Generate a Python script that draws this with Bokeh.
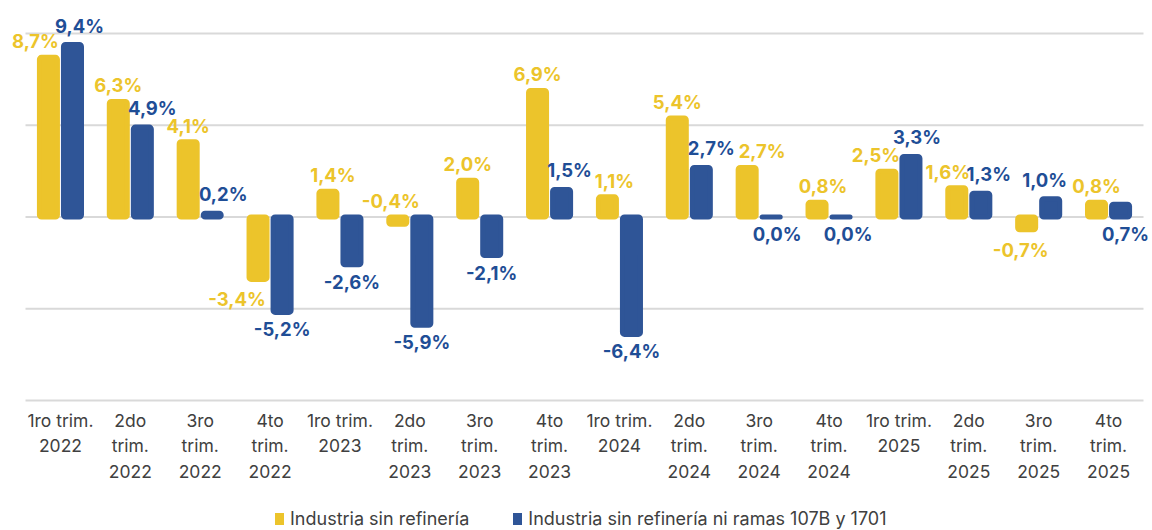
from bokeh.plotting import figure
from bokeh.models import ColumnDataSource, Legend, LegendItem, Range1d
from bokeh.core.properties import value
from bokeh.embed import file_html
from bokeh.resources import INLINE

categories = ["1ro trim.\n2022", "2do\ntrim.\n2022", "3ro\ntrim.\n2022", "4to\ntrim.\n2022",
              "1ro trim.\n2023", "2do\ntrim.\n2023", "3ro\ntrim.\n2023", "4to\ntrim.\n2023",
              "1ro trim.\n2024", "2do\ntrim.\n2024", "3ro\ntrim.\n2024", "4to\ntrim.\n2024",
              "1ro trim.\n2025", "2do\ntrim.\n2025", "3ro\ntrim.\n2025", "4to\ntrim.\n2025"]
industria = [8.7, 6.3, 4.1, -3.4, 1.4, -0.4, 2.0, 6.9, 1.1, 5.4, 2.7, 0.8, 2.5, 1.6, -0.7, 0.8]
industria_ramas = [9.4, 4.9, 0.2, -5.2, -2.6, -5.9, -2.1, 1.5, -6.4, 2.7, 0.0, 0.0, 3.3, 1.3, 1.0, 0.7]
series_names = ["Industria sin refinería", "Industria sin refinería ni ramas 107B y 1701"]
grid_values = [-10, -5, 0, 5, 10]
y_min, y_max = -10, 10

# label placement (style): above / below bar end, horizontal nudge in px
y_place = ["above", "above", "above", "below", "above", "above", "above", "above",
           "above", "above", "above", "above", "above", "above", "below", "above"]
b_place = ["above", "above", "above", "below", "below", "below", "below", "above",
           "below", "above", "below", "below", "above", "above", "above", "below"]
y_dx = [-13, 0, 0, -21, 5, -7, 0, 0, 7, 0, 15, 6, -11, -9, -6, 0]
b_dx = [7, 10, 11, 0, 0, 0, 0, 8, 0, 10, 6, 7, 6, 8, -6, 5]

YELLOW = "#ECC42B"
BLUE = "#2F5597"
BLUE_TXT = "#1F4E96"
FONT = "Inter"

n = len(categories)
xs = list(range(n))
off = 0.172
bw = 0.258

# pixel layout: +10 gridline at 33px, -10 gridline at 400px, canvas 530px tall
H = 530
px_per_unit = (400 - 33) / (y_max - y_min)
y_top = y_max + 33 / px_per_unit
y_bottom = y_top - H / px_per_unit


def fmt(v):
    return f"{v:.1f}".replace(".", ",") + "%"


p = figure(frame_width=1152, frame_height=H, output_backend="svg", toolbar_location=None,
           x_range=Range1d(-0.858, 15.629), y_range=Range1d(y_bottom, y_top),
           min_border_left=0, min_border_right=0, min_border_top=0, min_border_bottom=0)
p.outline_line_color = None
p.xgrid.visible = False
p.ygrid.visible = False
p.yaxis.visible = False
p.xaxis.visible = False
p.background_fill_color = "white"
p.border_fill_color = "white"

# gridlines
p.segment(x0=[-0.5] * len(grid_values), x1=[n - 0.5] * len(grid_values),
          y0=grid_values, y1=grid_values, line_color="#D9D9D9", line_width=2)

src_y = ColumnDataSource(dict(x=[x - off for x in xs], top=industria))
src_b = ColumnDataSource(dict(x=[x + off for x in xs], top=industria_ramas))
r1 = p.vbar(x="x", top="top", bottom=0, width=bw, source=src_y, fill_color=YELLOW,
            line_color=YELLOW, line_width=5, line_join="round", border_radius=2)
r2 = p.vbar(x="x", top="top", bottom=0, width=bw, source=src_b, fill_color=BLUE,
            line_color=BLUE, line_width=5, line_join="round", border_radius=2)


def add_labels(vals, place, dx, shift, color, up, down):
    for i, v in enumerate(vals):
        above = place[i] == "above"
        if above:
            yy = max(v, 0)
            base = "bottom"
            yo = up
        else:
            yy = min(v, 0)
            base = "top"
            yo = down
        p.text(x=[i + shift], y=[yy], text=[fmt(v)], text_align="center",
               text_baseline=base, x_offset=dx[i], y_offset=yo,
               text_font=value(FONT), text_font_style="bold", text_font_size="18.5px",
               text_color=color)


add_labels(industria, y_place, y_dx, -off, YELLOW, -5, 9)
add_labels(industria_ramas, b_place, b_dx, off, BLUE_TXT, -8, 6)

# category labels (category axis) under the -10 gridline
p.text(x=xs, y=[y_min] * n, text=categories, text_align="center", text_baseline="top",
       y_offset=9, text_font=value(FONT), text_font_size="17.5px", text_color="#404040",
       text_line_height=1.22)

legend = Legend(items=[LegendItem(label=series_names[0], renderers=[r1]),
                       LegendItem(label=series_names[1], renderers=[r2])],
                orientation="horizontal", location=(275, 1),
                label_text_font=FONT, label_text_font_size="18px", label_text_color="#404040",
                glyph_width=9, glyph_height=12, label_standoff=6, spacing=44,
                border_line_color=None, background_fill_alpha=0, padding=0, margin=0)
p.add_layout(legend, "center")

open("out.html", "w").write(file_html(p, INLINE))
